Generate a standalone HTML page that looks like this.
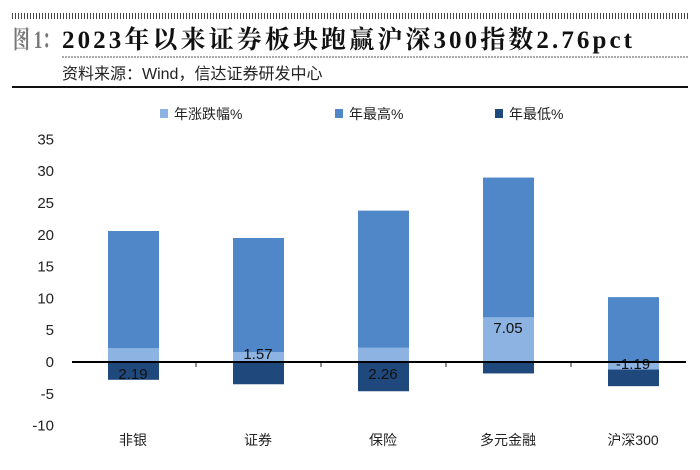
<!DOCTYPE html>
<html><head><meta charset="utf-8"><style>
body{margin:0;background:#fff;width:700px;height:465px;overflow:hidden;font-family:"Liberation Sans","Noto Sans CJK SC",sans-serif}
</style></head><body>
<svg width="700" height="465">
<line x1="12" y1="16" x2="688" y2="16" stroke="#444" stroke-width="6" stroke-dasharray="1,2"/>
<text x="13" y="48" font-family="'Liberation Serif','Noto Serif CJK SC',serif" font-weight="bold" font-size="25" fill="#777" textLength="46" lengthAdjust="spacingAndGlyphs">图 1：</text>
<text x="62" y="48" font-family="'Liberation Serif','Noto Serif CJK SC',serif" font-weight="bold" font-size="25" fill="#111" textLength="570">2023年以来证券板块跑赢沪深300指数2.76pct</text>
<line x1="62" y1="57" x2="688" y2="57" stroke="#555" stroke-width="1" stroke-dasharray="2,1"/>
<text x="62" y="79" font-size="16" fill="#222">资料来源：Wind，信达证券研发中心</text>
<line x1="12" y1="87" x2="688" y2="87" stroke="#111" stroke-width="2"/>
<g id="legend" font-size="14" fill="#222"></g>
<g id="axis"></g><g id="bars"></g>
</svg>
<script>
const categories=["非银","证券","保险","多元金融","沪深300"];
const changeVals=[2.19,1.57,2.26,7.05,-1.19];
const highVals=[20.6,19.5,23.8,29.0,10.2];
const lowVals=[-2.8,-3.5,-4.6,-1.8,-3.8];
const yTicks=[35,30,25,20,15,10,5,0,-5,-10];
const NS="http://www.w3.org/2000/svg";
const y0=362,ppu=6.36;
function y(v){return y0-v*ppu;}
function xc(i){return 133+i*125;}
function mk(t,a,p){const e=document.createElementNS(NS,t);for(const k in a)e.setAttribute(k,a[k]);p.appendChild(e);return e;}
const ax=document.getElementById('axis'),bars=document.getElementById('bars'),lg=document.getElementById('legend');
yTicks.forEach(v=>{const t=mk('text',{x:54,y:y(v)+5,'text-anchor':'end','font-size':15,fill:'#222'},ax);t.textContent=v;

});
const cols={c:'#8db3e2',h:'#4f87c8',l:'#1f497d'};
categories.forEach((c,i)=>{
 const x=xc(i)-25,w=51;
 function bar(v,col,n){const r=mk('rect',{x:x,y:Math.min(y(v),y0),width:w,height:Math.abs(v)*ppu,fill:col},bars);
 
 }
 bar(highVals[i],cols.h,'bar-high');
 bar(lowVals[i],cols.l,'bar-low');
 bar(changeVals[i],cols.c,'bar-change');
 const v=changeVals[i];
 const ly=v>5?y(v)+16:(v<0?y0+7:(i===1?y0-3:y0+17));
 const lb=mk('text',{x:xc(i),y:ly,'text-anchor':'middle','font-size':15,fill:'#111'},bars);
 lb.textContent=v.toFixed(2);
 
 
 const cl=mk('text',{x:xc(i),y:445,'text-anchor':'middle','font-size':14,fill:'#222'},ax);cl.textContent=c;
 
 
 if(i>0){const tk=mk('line',{x1:xc(i)-62,y1:y0,x2:xc(i)-62,y2:y0+5,stroke:'#222'},ax);
 
 }
});
const zl=mk('line',{x1:72,y1:y0,x2:686,y2:y0,stroke:'#000','stroke-width':2},bars);


[["年涨跌幅%",cols.c,160],["年最高%",cols.h,335],["年最低%",cols.l,495]].forEach(([t,c,x])=>{
 const g=mk('g',{},lg);
 
 
 mk('rect',{x:x,y:109,width:8,height:9,fill:c},g);
 const tx=mk('text',{x:x+14,y:119},g);tx.textContent=t;
});
</script>
</body></html>
